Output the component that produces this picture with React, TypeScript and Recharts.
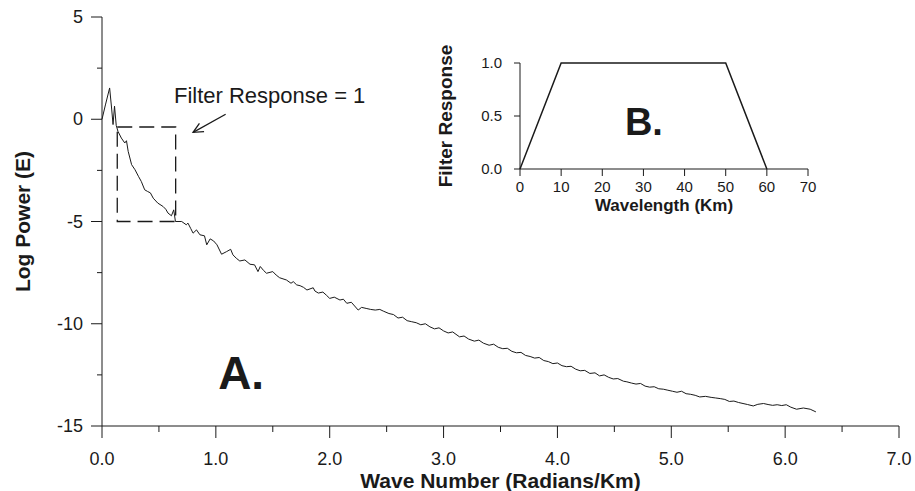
import React from 'react';
import {
  LineChart,
  Line,
  XAxis,
  YAxis,
  ReferenceArea,
  ReferenceLine,
  ReferenceDot,
} from 'recharts';

// main spectrum (panel A)
const waveNumber = [
  0.0, 0.03, 0.067, 0.085, 0.097, 0.11, 0.125, 0.14, 0.17, 0.2, 0.215, 0.23, 0.26, 0.29, 0.32,
  0.345, 0.375, 0.4, 0.425, 0.45, 0.49, 0.535, 0.56, 0.58, 0.61, 0.63, 0.645, 0.7, 0.74, 0.755,
  0.78, 0.8, 0.83, 0.86, 0.9, 0.92, 0.95, 0.98, 1.01, 1.05, 1.095, 1.13, 1.15, 1.18, 1.21,
  1.255, 1.3, 1.34, 1.37, 1.39, 1.42, 1.445, 1.5, 1.53, 1.56, 1.62, 1.66, 1.68, 1.71, 1.74,
  1.77, 1.8, 1.855, 1.87, 1.9, 1.94, 1.97, 2.0, 2.04, 2.09, 2.12, 2.15, 2.19, 2.25, 2.28,
  2.32, 2.36, 2.4, 2.44, 2.47, 2.52, 2.56, 2.6, 2.64, 2.68, 2.72, 2.76, 2.8, 2.84, 2.88,
  2.92, 2.96, 3.0, 3.04, 3.08, 3.14, 3.18, 3.22, 3.27, 3.31, 3.35, 3.4, 3.44, 3.48, 3.52,
  3.56, 3.6, 3.64, 3.68, 3.72, 3.76, 3.8, 3.84, 3.88, 3.92, 3.96, 4.0, 4.04, 4.08, 4.12,
  4.16, 4.2, 4.24, 4.285, 4.33, 4.37, 4.41, 4.45, 4.49, 4.53, 4.58, 4.61, 4.65, 4.69, 4.73,
  4.77, 4.81, 4.85, 4.89, 4.93, 4.97, 5.01, 5.05, 5.09, 5.13, 5.17, 5.21, 5.25, 5.3, 5.35,
  5.39, 5.43, 5.47, 5.51, 5.55, 5.59, 5.63, 5.67, 5.72, 5.76, 5.81, 5.85, 5.89, 5.93, 5.97,
  6.01, 6.05, 6.1, 6.16, 6.22, 6.27,
];
const logPower = [
  0.0, 0.7, 1.53, 0.5, -0.26, 0.64, -0.3, -0.59, -0.92, -1.16, -1.05, -1.57, -2.22, -2.47, -2.79,
  -3.04, -3.45, -3.53, -3.6, -3.86, -4.1, -4.26, -4.4, -4.59, -4.72, -4.43, -5.0, -5.0, -5.16, -5.08,
  -5.35, -5.57, -5.41, -5.65, -5.7, -6.14, -5.85, -5.95, -6.14, -6.6, -6.47, -6.36, -6.63, -6.8, -6.93,
  -6.88, -7.09, -7.12, -7.45, -7.2, -7.4, -7.53, -7.45, -7.62, -7.75, -7.86, -8.02, -7.94, -8.1, -8.14,
  -8.22, -8.35, -8.24, -8.4, -8.5, -8.45, -8.6, -8.76, -8.7, -8.84, -8.8, -9.0, -8.95, -9.33, -9.2,
  -9.25, -9.3, -9.33, -9.3, -9.38, -9.5, -9.55, -9.72, -9.68, -9.85, -9.9, -9.95, -10.05, -10.0, -10.15,
  -10.25, -10.2, -10.35, -10.45, -10.4, -10.64, -10.6, -10.75, -10.85, -10.8, -10.95, -11.05, -11.0, -11.15, -11.22,
  -11.2, -11.35, -11.42, -11.4, -11.55, -11.6, -11.68, -11.65, -11.8, -11.85, -11.95, -11.92, -12.05, -12.1, -12.08,
  -12.22, -12.3, -12.28, -12.43, -12.4, -12.55, -12.5, -12.62, -12.7, -12.68, -12.81, -12.84, -12.9, -12.95, -12.92,
  -13.05, -13.1, -13.08, -13.18, -13.2, -13.25, -13.3, -13.35, -13.3, -13.42, -13.45, -13.5, -13.58, -13.55, -13.6,
  -13.63, -13.66, -13.7, -13.8, -13.78, -13.85, -13.9, -13.95, -14.02, -13.94, -13.9, -13.95, -13.99, -13.96, -14.0,
  -13.96, -14.08, -14.18, -14.12, -14.18, -14.31,
];
const mainXTicks = [0, 0.5, 1, 1.5, 2, 2.5, 3, 3.5, 4, 4.5, 5, 5.5, 6, 6.5, 7];
const mainYTicks = [-15, -12.5, -10, -7.5, -5, -2.5, 0, 2.5, 5];

// filter window box
const boxX = [0.134, 0.647];
const boxY = [-5, -0.38];

// inset (panel B)
const wavelength = [0, 10, 50, 60];
const filterResponse = [0, 1, 1, 0];
const insetXTicks = [0, 10, 20, 30, 40, 50, 60, 70];
const insetYTicks = [0, 0.5, 1];

const mainData = waveNumber.map((k, i) => ({ k, p: logPower[i] }));
const insetData = wavelength.map((w, i) => ({ w, r: filterResponse[i] }));

const FONT = '"Liberation Sans", Arial, sans-serif';
const INK = '#1a1a1a';

const MainXTick = ({ x, y, payload }: any) => {
  const v = payload.value;
  const major = Math.abs(v - Math.round(v)) < 1e-6;
  return (
    <g>
      <line x1={x} y1={y} x2={x} y2={y + (major ? 12 : 6)} stroke={INK} />
      {major && (
        <text x={x} y={y + 39} textAnchor="middle" fontSize={18} fontFamily={FONT} fill={INK}>
          {v.toFixed(1)}
        </text>
      )}
    </g>
  );
};

const MainYTick = ({ x, y, payload }: any) => {
  const v = payload.value;
  const major = v % 5 === 0;
  return (
    <g>
      <line x1={x} y1={y} x2={x - (major ? 11 : 5)} y2={y} stroke={INK} />
      {major && (
        <text x={x - 19} y={y + 6} textAnchor="end" fontSize={18} fontFamily={FONT} fill={INK}>
          {v}
        </text>
      )}
    </g>
  );
};

const InsetXTick = ({ x, y, payload }: any) => (
  <g>
    <line x1={x} y1={y} x2={x} y2={y + 7} stroke={INK} />
    <text x={x} y={y + 23} textAnchor="middle" fontSize={15} fontFamily={FONT} fill={INK}>
      {payload.value}
    </text>
  </g>
);

const InsetYTick = ({ x, y, payload }: any) => (
  <g>
    <line x1={x} y1={y} x2={x - 6} y2={y} stroke={INK} />
    <text x={x - 18} y={y + 5} textAnchor="end" fontSize={15} fontFamily={FONT} fill={INK}>
      {payload.value.toFixed(1)}
    </text>
  </g>
);

const Arrow = (props: any) => {
  const { x1, y1, x2, y2 } = props;
  const a = Math.atan2(y2 - y1, x2 - x1);
  const len = 11;
  const spread = 0.45;
  return (
    <g stroke={INK} strokeWidth={1.3} fill="none">
      <line x1={x1} y1={y1} x2={x2} y2={y2} />
      <polyline
        points={`${x2 - len * Math.cos(a - spread)},${y2 - len * Math.sin(a - spread)} ${x2},${y2} ${x2 - len * Math.cos(a + spread)},${y2 - len * Math.sin(a + spread)}`}
      />
    </g>
  );
};

const textShape = (txt: string, size: number, bold: boolean) => (props: any) => (
  <text
    x={props.cx}
    y={props.cy}
    fontSize={size}
    fontWeight={bold ? 'bold' : 'normal'}
    fontFamily={FONT}
    fill={INK}
  >
    {txt}
  </text>
);

export default function App() {
  return (
    <div style={{ position: 'absolute', left: 0, top: 0, width: 915, height: 491, background: '#fff' }}>
      <LineChart
        width={915}
        height={491}
        data={mainData}
        margin={{ top: 17, right: 16, left: 12, bottom: 0 }}
      >
        <XAxis
          dataKey="k"
          type="number"
          domain={[0, 7]}
          ticks={mainXTicks}
          tick={<MainXTick />}
          tickLine={false}
          tickSize={0}
          tickMargin={0}
          height={65}
          stroke={INK}
          label={{
            content: ({ viewBox }: any) => (
              <text
                x={viewBox.x + viewBox.width / 2}
                y={viewBox.y + 62}
                textAnchor="middle"
                fontSize={21}
                fontWeight="bold"
                fontFamily={FONT}
                fill={INK}
              >
                Wave Number (Radians/Km)
              </text>
            ),
          }}
        />
        <YAxis
          type="number"
          domain={[-15, 5]}
          ticks={mainYTicks}
          tick={<MainYTick />}
          tickLine={false}
          tickSize={0}
          tickMargin={0}
          width={90}
          stroke={INK}
          label={{
            content: ({ viewBox }: any) => {
              const cx = 22;
              const cy = viewBox.y + viewBox.height / 2;
              return (
                <text
                  x={cx}
                  y={cy}
                  transform={`rotate(-90, ${cx}, ${cy})`}
                  textAnchor="middle"
                  dominantBaseline="central"
                  fontSize={21}
                  fontWeight="bold"
                  fontFamily={FONT}
                  fill={INK}
                >
                  Log Power (E)
                </text>
              );
            },
          }}
        />
        <ReferenceArea
          x1={boxX[0]}
          x2={boxX[1]}
          y1={boxY[0]}
          y2={boxY[1]}
          fill="none"
          fillOpacity={0}
          stroke={INK}
          strokeWidth={1.3}
          strokeDasharray="15 7"
        />
        <ReferenceLine
          segment={[
            { x: 1.086, y: 0.245 },
            { x: 0.8, y: -0.64 },
          ]}
          shape={<Arrow />}
        />
        <ReferenceDot x={0.632} y={0.78} r={0} shape={textShape('Filter Response = 1', 22, false)} />
        <ReferenceDot x={1.02} y={-13.19} r={0} shape={textShape('A.', 46, true)} />
        <Line
          type="linear"
          dataKey="p"
          stroke={INK}
          strokeWidth={1}
          dot={false}
          isAnimationActive={false}
        />
      </LineChart>

      <div style={{ position: 'absolute', left: 420, top: 20 }}>
        <LineChart
          width={400}
          height={200}
          data={insetData}
          margin={{ top: 43, right: 12, left: 40, bottom: 0 }}
        >
          <XAxis
            dataKey="w"
            type="number"
            domain={[0, 70]}
            ticks={insetXTicks}
            tick={<InsetXTick />}
            tickLine={false}
            tickSize={0}
            tickMargin={0}
            height={51}
            stroke={INK}
            label={{
              content: ({ viewBox }: any) => (
                <text
                  x={viewBox.x + viewBox.width / 2}
                  y={viewBox.y + 42}
                  textAnchor="middle"
                  fontSize={17}
                  fontWeight="bold"
                  fontFamily={FONT}
                  fill={INK}
                >
                  Wavelength (Km)
                </text>
              ),
            }}
          />
          <YAxis
            type="number"
            domain={[0, 1]}
            ticks={insetYTicks}
            tick={<InsetYTick />}
            tickLine={false}
            tickSize={0}
            tickMargin={0}
            width={60}
            stroke={INK}
            label={{
              content: ({ viewBox }: any) => {
                const cx = 25.5;
                const cy = viewBox.y + viewBox.height / 2;
                return (
                  <text
                    x={cx}
                    y={cy}
                    transform={`rotate(-90, ${cx}, ${cy})`}
                    textAnchor="middle"
                    dominantBaseline="central"
                    fontSize={19}
                    fontWeight="bold"
                    fontFamily={FONT}
                    fill={INK}
                  >
                    Filter Response
                  </text>
                );
              },
            }}
          />
          <ReferenceDot x={25.5} y={0.32} r={0} shape={textShape('B.', 38, true)} />
          <Line
            type="linear"
            dataKey="r"
            stroke={INK}
            strokeWidth={1.5}
            dot={false}
            isAnimationActive={false}
          />
        </LineChart>
      </div>
    </div>
  );
}
